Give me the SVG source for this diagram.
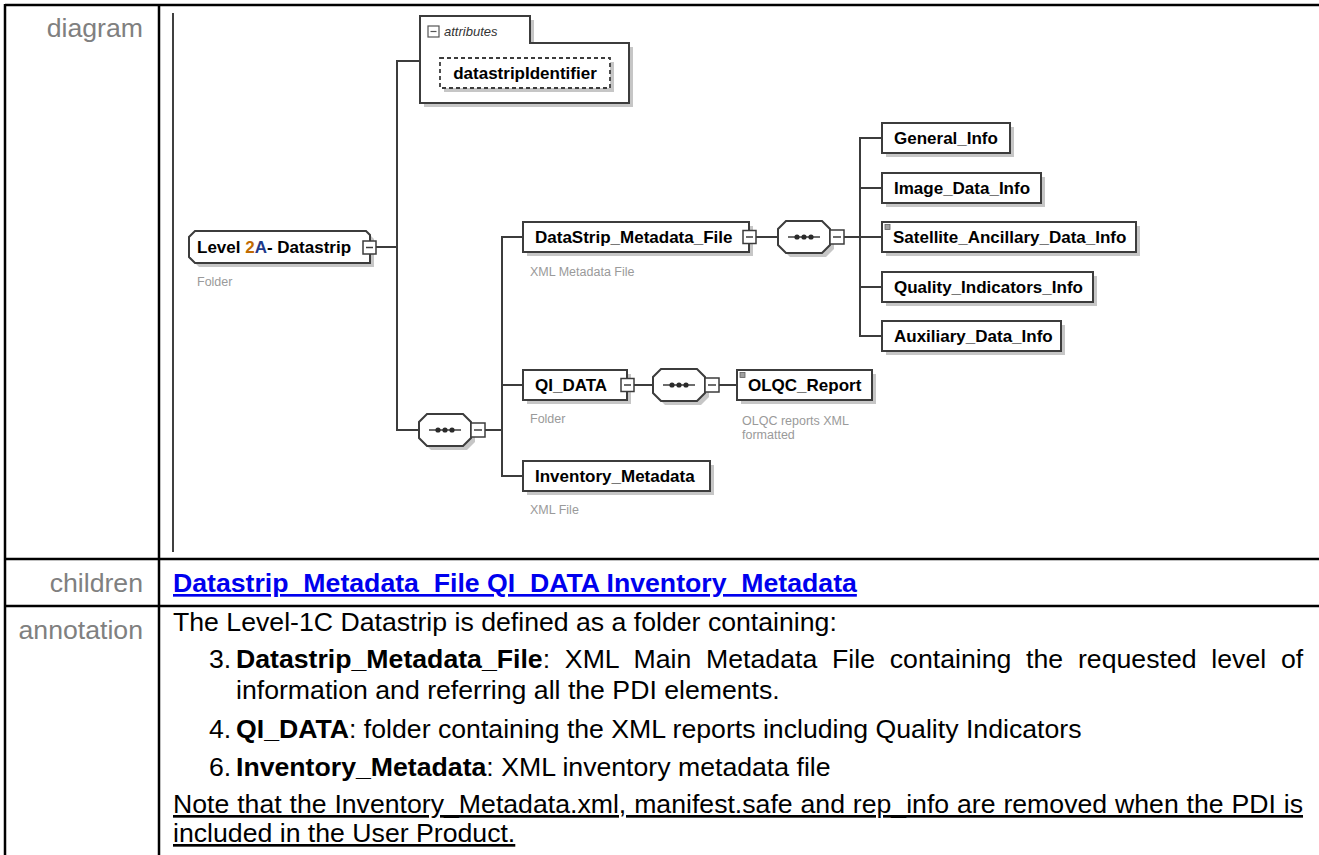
<svg xmlns="http://www.w3.org/2000/svg" xmlns:xlink="http://www.w3.org/1999/xlink" width="1319" height="855" viewBox="0 0 1319 855">
<style>
.lbl{font-family:"Liberation Sans",Arial,sans-serif;font-size:26.67px;fill:#808080}
.ann{font-family:"Liberation Sans",Arial,sans-serif;font-size:26.67px;fill:#000}
.b{font-weight:bold}
.nt{font-family:"Liberation Sans",Arial,sans-serif;font-size:17px;font-weight:bold;fill:#000}
.desc{font-family:"Liberation Sans",Arial,sans-serif;font-size:12.5px;fill:#9a9a9a}
.box{fill:#fff;stroke:#3c3c3c;stroke-width:2}
.sh{fill:#c6c6c6}
.ln{stroke:#3c3c3c;stroke-width:2;fill:none}
.exp{fill:#fff;stroke:#3c3c3c;stroke-width:1.5}
.tbl{stroke:#000;stroke-width:2.5;fill:none}
.mark{fill:#a0a0a0;stroke:#606060;stroke-width:0.8}
</style>
<defs>
<g id="seq">
<polygon class="sh" points="12,4 48,4 56,12 56,28 48,36 12,36 4,28 4,12"/>
<polygon class="box" points="8,0 44,0 52,8 52,24 44,32 8,32 0,24 0,8"/>
<line x1="10" y1="16" x2="42" y2="16" stroke="#3c3c3c" stroke-width="1.5"/>
<circle cx="19" cy="16" r="2.6" fill="#2a2a2a"/>
<circle cx="26" cy="16" r="2.6" fill="#2a2a2a"/>
<circle cx="33" cy="16" r="2.6" fill="#2a2a2a"/>
<rect class="exp" x="52" y="9" width="14" height="14"/>
<line x1="55" y1="16" x2="63" y2="16" stroke="#3c3c3c" stroke-width="1.5"/>
</g>
<g id="expd">
<rect class="exp" x="0" y="0" width="13" height="13"/>
<line x1="3" y1="6.5" x2="10" y2="6.5" stroke="#3c3c3c" stroke-width="1.5"/>
</g>
</defs>
<rect x="0" y="0" width="1319" height="855" fill="#fff"/>

<g id="table">
<line class="tbl" x1="5" y1="5" x2="1319" y2="5"/>
<line class="tbl" x1="5" y1="4" x2="5" y2="855"/>
<line class="tbl" x1="159" y1="4" x2="159" y2="855"/>
<line class="tbl" x1="5" y1="559" x2="1319" y2="559"/>
<line class="tbl" x1="5" y1="606" x2="1319" y2="606"/>
<line x1="173" y1="13" x2="173" y2="552" stroke="#000" stroke-width="1.5"/>
<text class="lbl" x="143" y="37" text-anchor="end">diagram</text>
<text class="lbl" x="143" y="592" text-anchor="end">children</text>
<text class="lbl" x="143" y="639" text-anchor="end">annotation</text>
<text class="ann b" x="173" y="592" fill="#0000ee" style="fill:#0000ee" text-decoration="underline">Datastrip_Metadata_File QI_DATA Inventory_Metadata</text>
<text class="ann" x="173" y="631">The Level-1C Datastrip is defined as a folder containing:</text>
<text class="ann" x="209" y="668">3.</text>
<text class="ann" x="236" y="668" word-spacing="7.4"><tspan class="b">Datastrip_Metadata_File</tspan>: XML Main Metadata File containing the requested level of</text>
<text class="ann" x="236" y="699">information and referring all the PDI elements.</text>
<text class="ann" x="209" y="738">4.</text>
<text class="ann" x="236" y="738"><tspan class="b">QI_DATA</tspan>: folder containing the XML reports including Quality Indicators</text>
<text class="ann" x="209" y="776">6.</text>
<text class="ann" x="236" y="776"><tspan class="b">Inventory_Metadata</tspan>: XML inventory metadata file</text>
<text class="ann" x="173" y="813" word-spacing="0.45" text-decoration="underline">Note that the Inventory_Metadata.xml, manifest.safe and rep_info are removed when the PDI is</text>
<text class="ann" x="173" y="842" text-decoration="underline">included in the User Product.</text>
</g>

<g id="connectors">
<line class="ln" x1="376" y1="247" x2="397" y2="247"/>
<line class="ln" x1="397" y1="60" x2="397" y2="431"/>
<line class="ln" x1="396" y1="61" x2="420" y2="61"/>
<line class="ln" x1="396" y1="430" x2="419" y2="430"/>
<line class="ln" x1="485" y1="430" x2="502" y2="430"/>
<line class="ln" x1="502" y1="236" x2="502" y2="477"/>
<line class="ln" x1="501" y1="237" x2="523" y2="237"/>
<line class="ln" x1="501" y1="385" x2="523" y2="385"/>
<line class="ln" x1="501" y1="476" x2="523" y2="476"/>
<line class="ln" x1="756" y1="237" x2="778" y2="237"/>
<line class="ln" x1="844" y1="237" x2="860" y2="237"/>
<line class="ln" x1="860" y1="137" x2="860" y2="337"/>
<line class="ln" x1="859" y1="138" x2="882" y2="138"/>
<line class="ln" x1="859" y1="188" x2="882" y2="188"/>
<line class="ln" x1="859" y1="237" x2="882" y2="237"/>
<line class="ln" x1="859" y1="287" x2="882" y2="287"/>
<line class="ln" x1="859" y1="336" x2="882" y2="336"/>
<line class="ln" x1="634" y1="385" x2="653" y2="385"/>
<line class="ln" x1="719" y1="385" x2="737" y2="385"/>
</g>

<g id="level2a">
<path class="sh" d="M199,235 H370 L374,239 V267 H199 L193,261 V241 Z"/>
<path class="box" d="M195,231 H366 L370,235 V263 H195 L189,257 V237 Z"/>
<text class="nt" x="197" y="253">Level <tspan fill="#c06a00" style="fill:#c06a00">2</tspan><tspan fill="#1e3a8a" style="fill:#1e3a8a">A</tspan>- Datastrip</text>
<use xlink:href="#expd" href="#expd" x="363" y="241"/>
<text class="desc" x="197" y="286">Folder</text>
</g>

<g id="attributes">
<path class="sh" d="M424,20 H534 V47 H633 V107 H424 Z"/>
<path class="box" d="M420,16 H530 V43 H629 V103 H420 Z"/>
<rect x="428" y="26" width="11" height="11" fill="#fff" stroke="#555" stroke-width="1.2"/>
<line x1="430.5" y1="31.5" x2="436.5" y2="31.5" stroke="#555" stroke-width="1.2"/>
<text x="444" y="36" font-family="Liberation Sans, Arial, sans-serif" font-size="13" font-style="italic" fill="#333">attributes</text>
</g>

<g id="datastripIdentifier">
<rect class="sh" x="444" y="62" width="170" height="30"/>
<rect x="440" y="58" width="170" height="30" fill="#fff" stroke="#3c3c3c" stroke-width="1.8" stroke-dasharray="4 3"/>
<text class="nt" x="525" y="79" text-anchor="middle">datastripIdentifier</text>
</g>

<g id="seq1"><use xlink:href="#seq" href="#seq" x="419" y="414"/></g>

<g id="datastrip_metadata_file">
<rect class="sh" x="527" y="226" width="226" height="30"/>
<rect class="box" x="523" y="222" width="226" height="30"/>
<text class="nt" x="535" y="243">DataStrip_Metadata_File</text>
<use xlink:href="#expd" href="#expd" x="743" y="230.5"/>
<text class="desc" x="530" y="276">XML Metadata File</text>
</g>

<g id="seq2"><use xlink:href="#seq" href="#seq" x="778" y="221"/></g>

<g id="general_info">
<rect class="sh" x="886" y="127" width="128" height="30"/>
<rect class="box" x="882" y="123" width="128" height="30"/>
<text class="nt" x="894" y="144">General_Info</text>
</g>
<g id="image_data_info">
<rect class="sh" x="886" y="177" width="159" height="30"/>
<rect class="box" x="882" y="173" width="159" height="30"/>
<text class="nt" x="894" y="194">Image_Data_Info</text>
</g>
<g id="satellite_ancillary_data_info">
<rect class="sh" x="886" y="226" width="254" height="30"/>
<rect class="box" x="882" y="222" width="254" height="30"/>
<rect class="mark" x="885" y="224.5" width="5" height="5"/>
<text class="nt" x="893" y="243">Satellite_Ancillary_Data_Info</text>
</g>
<g id="quality_indicators_info">
<rect class="sh" x="886" y="276" width="211" height="30"/>
<rect class="box" x="882" y="272" width="211" height="30"/>
<text class="nt" x="894" y="293">Quality_Indicators_Info</text>
</g>
<g id="auxiliary_data_info">
<rect class="sh" x="886" y="325" width="179" height="30"/>
<rect class="box" x="882" y="321" width="179" height="30"/>
<text class="nt" x="894" y="342">Auxiliary_Data_Info</text>
</g>

<g id="qi_data">
<rect class="sh" x="527" y="374" width="104" height="30"/>
<rect class="box" x="523" y="370" width="104" height="30"/>
<text class="nt" x="535" y="391">QI_DATA</text>
<use xlink:href="#expd" href="#expd" x="621" y="378.5"/>
<text class="desc" x="530" y="423">Folder</text>
</g>

<g id="seq3"><use xlink:href="#seq" href="#seq" x="653" y="369"/></g>

<g id="olqc_report">
<rect class="sh" x="741" y="374" width="135" height="30"/>
<rect class="box" x="737" y="370" width="135" height="30"/>
<rect class="mark" x="740" y="372.5" width="5" height="5"/>
<text class="nt" x="748" y="391">OLQC_Report</text>
<text class="desc" x="742" y="425">OLQC reports XML</text>
<text class="desc" x="742" y="439">formatted</text>
</g>

<g id="inventory_metadata">
<rect class="sh" x="527" y="465" width="187" height="30"/>
<rect class="box" x="523" y="461" width="187" height="30"/>
<text class="nt" x="535" y="482">Inventory_Metadata</text>
<text class="desc" x="530" y="514">XML File</text>
</g>
</svg>
